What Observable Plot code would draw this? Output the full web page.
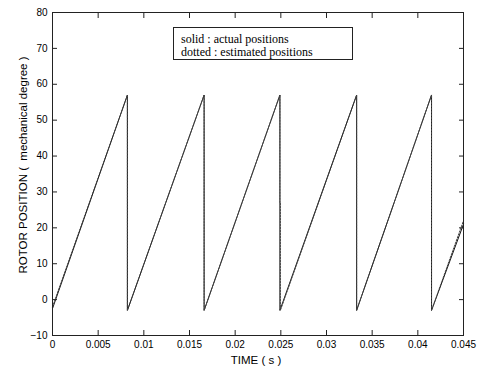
<!DOCTYPE html>
<html>
<head>
<meta charset="utf-8">
<script src="https://cdn.jsdelivr.net/npm/d3@7"></script>
<script src="https://cdn.jsdelivr.net/npm/@observablehq/plot@0.6"></script>
<style>
  html, body { margin: 0; padding: 0; background: #fff; }
  #wrap { position: relative; width: 479px; height: 369px; }
  #legend {
    position: absolute; left: 173px; top: 27px; width: 180px; height: 33px;
    border: 1px solid #222; background: #fff;
    font-family: "Liberation Serif", "Times New Roman", serif; font-size: 12px;
    line-height: 13px; color: #000; padding: 0; box-sizing: border-box;
  }
  #legend div { position: absolute; left: 7px; white-space: nowrap; }
</style>
</head>
<body>
<div id="wrap"></div>
<script>
// ---- data ----
const actualTime = [0, 0.0082, 0.0082, 0.0166, 0.0166, 0.0249, 0.0249, 0.0333, 0.0333, 0.0415, 0.0415, 0.045];
const actualPos  = [-2.5, 57, -3, 57, -3, 57, -3, 57, -3, 57, -3, 21];

const estTime = [0, 0.0082, 0.0082, 0.0166, 0.0166, 0.0249, 0.0249, 0.02495, 0.02495, 0.0333, 0.0333, 0.0415, 0.0415, 0.045];
const estPos  = [-2, 57, -3, 57, -3, 57, 27, 27, -3, 57, -3, 57, -3, 22];

const xTicks = [0, 0.005, 0.01, 0.015, 0.02, 0.025, 0.03, 0.035, 0.04, 0.045];
const yTicks = [-10, 0, 10, 20, 30, 40, 50, 60, 70, 80];

const xLabel = "TIME ( s )";
const yLabel = "ROTOR POSITION (  mechanical degree )";
const legendLines = ["solid : actual positions", "dotted : estimated positions"];

const actual = actualTime.map((t, i) => ({t, v: actualPos[i]}));
const estimated = estTime.map((t, i) => ({t, v: estPos[i]}));

const fmtX = d => d === 0 ? "0" : String(+d.toFixed(3));
const blank = () => "";
const font = '"Liberation Sans", Arial, Helvetica, sans-serif';

const chart = Plot.plot({
  width: 479,
  height: 369,
  marginLeft: 52,
  marginRight: 16,
  marginTop: 12,
  marginBottom: 34,
  style: {fontFamily: font, fontSize: "10px", color: "#000", background: "#fff"},
  x: {domain: [0, 0.045]},
  y: {domain: [-10, 80]},
  marks: [
    Plot.line(actual, {x: "t", y: "v", stroke: "#111", strokeWidth: 1}),
    Plot.line(estimated, {x: "t", y: "v", stroke: "#444", strokeWidth: 1, strokeDasharray: "1.5,1.5"}),
    Plot.frame({stroke: "#222", strokeWidth: 1}),
    // tick labels
    Plot.axisX({anchor: "bottom", ticks: xTicks, tickSize: 0, tickPadding: 5, tickFormat: fmtX, label: null, fontSize: 10}),
    Plot.axisY({anchor: "left", ticks: yTicks, tickSize: 0, tickPadding: 5, label: null, fontSize: 10}),
    // inward ticks on all four sides
    Plot.axisX({anchor: "bottom", ticks: xTicks, tickSize: 5, dy: -5, tickFormat: blank, label: null, stroke: "#222"}),
    Plot.axisX({anchor: "top", ticks: xTicks, tickSize: 5, dy: 5, tickFormat: blank, label: null, stroke: "#222"}),
    Plot.axisY({anchor: "left", ticks: yTicks, tickSize: 5, dx: 5, tickFormat: blank, label: null, stroke: "#222"}),
    Plot.axisY({anchor: "right", ticks: yTicks, tickSize: 5, dx: -5, tickFormat: blank, label: null, stroke: "#222"}),
    // axis titles
    Plot.text([xLabel], {text: d => d, frameAnchor: "bottom", textAnchor: "middle", lineAnchor: "middle", dy: 25, dx: -2, fontSize: 11.5, fill: "#000"}),
    Plot.text([yLabel], {text: d => d, frameAnchor: "left", textAnchor: "middle", lineAnchor: "middle", rotate: -90, dx: -29, dy: -9, fontSize: 11.5, fill: "#000"})
  ]
});

const wrap = document.getElementById("wrap");
wrap.appendChild(chart);
const legend = document.createElement("div");
legend.id = "legend";
legendLines.forEach((s, i) => {
  const d = document.createElement("div");
  d.textContent = s;
  d.style.top = (5 + i * 13) + "px";
  legend.appendChild(d);
});
wrap.appendChild(legend);
</script>
</body>
</html>
